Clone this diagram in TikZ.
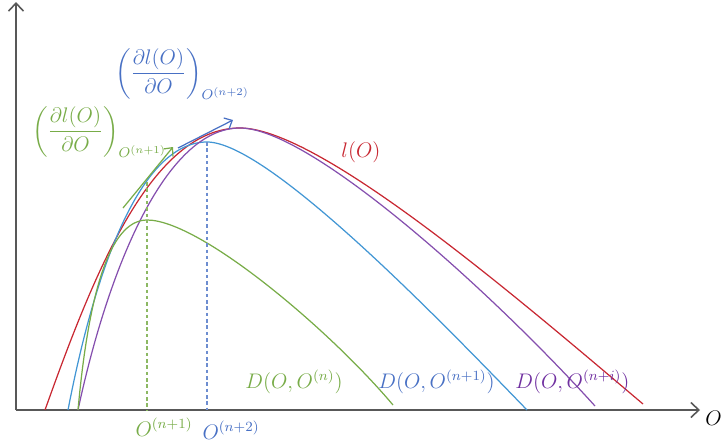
\documentclass[tikz,border=0pt]{standalone}
\usepackage{amsmath}
\usepackage{amssymb}
\usepackage{xcolor}
\usepackage{tikz}
\usetikzlibrary{arrows.meta,positioning,calc}
\definecolor{lred}{RGB}{200,40,50}
\definecolor{lgreen}{RGB}{120,172,72}
\definecolor{lblue}{RGB}{72,112,196}
\definecolor{lcyan}{RGB}{66,150,212}
\definecolor{lpurple}{RGB}{112,48,160}
\definecolor{axisgray}{RGB}{88,88,88}

\begin{document}
\begin{tikzpicture}[x=0.02cm, y=-0.02cm,
    axis/.style={draw=axisgray, line width=0.9pt, -{Straight Barb[length=1.6mm,width=3mm]}},
    curve/.style={line width=0.7pt},
    tangent/.style={line width=0.7pt, -{Straight Barb[length=1.3mm,width=2.4mm]}},
    guide/.style={line width=0.65pt, dash pattern=on 2pt off 1.6pt},
    lbl/.style={font=\large, inner sep=0pt}]
\useasboundingbox (0,0) rectangle (723,443);
\coordinate (orig) at (16,410);
\coordinate (ytop) at (16,2);
\coordinate (xend) at (700,410);
\draw[axis] (orig) -- (ytop);
\draw[axis] (orig) -- (xend);
\draw[curve, lred] (45,410) .. controls (95,270) and (152,128) .. (240,128)
    .. controls (320,128) and (520,300) .. (643,404);
\draw[curve, lcyan] (68,410) .. controls (95,270) and (140,142) .. (207,142)
    .. controls (268,142) and (440,320) .. (527,410);
\draw[curve, lpurple!85] (78,410) .. controls (108,270) and (165,128) .. (240,128)
    .. controls (310,128) and (490,290) .. (595,406);
\draw[curve, lgreen] (78,410) .. controls (88,300) and (108,220) .. (147,220)
    .. controls (200,220) and (330,330) .. (393,405);
\coordinate (pn1) at (147,182);
\coordinate (pn2) at (207,142);
\coordinate (bn1) at (147,410);
\coordinate (bn2) at (207,410);
\draw[guide, draw=lgreen!85] (pn1) -- (bn1);
\draw[guide, draw=lblue!80] (pn2) -- (bn2);
\coordinate (tg1a) at (123,208);
\coordinate (tg1b) at (173,147);
\coordinate (tg2a) at (178,148);
\coordinate (tg2b) at (233,120);
\draw[tangent, lgreen] (tg1a) -- (tg1b);
\draw[tangent, lblue] (tg2a) -- (tg2b);
\node[lbl, text=lred] (lO) at (361,152) {$l(O)$};
\node[lbl, text=lgreen, anchor=west] (Dn) at (245,382) {$D(O,O^{(n)})$};
\node[lbl, text=lblue, anchor=west] (Dn1) at (378,382) {$D(O,O^{(n+1)})$};
\node[lbl, text=lpurple, anchor=west] (Dni) at (515,382) {$D(O,O^{(n+i)})$};
\node[lbl, text=lgreen] (On1) at (164,427) {$O^{(n+1)}$};
\node[lbl, text=lblue] (On2) at (231,430) {$O^{(n+2)}$};
\node[lbl, anchor=west] (Oax) at (705,418) {$O$};
\node[lbl, text=lgreen, anchor=base west] (gradn1) at (32,137) {$\left(\dfrac{\partial l(O)}{\partial O}\right)_{O^{(n+1)}}$};
\node[lbl, text=lblue, anchor=base west] (gradn2) at (115,79) {$\left(\dfrac{\partial l(O)}{\partial O}\right)_{O^{(n+2)}}$};
\end{tikzpicture}
\end{document}
